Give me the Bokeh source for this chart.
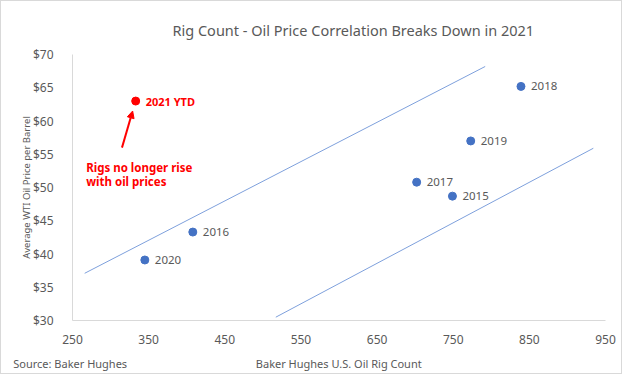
from bokeh.plotting import figure
from bokeh.models import ColumnDataSource, Arrow, NormalHead, Range1d, FixedTicker, NumeralTickFormatter
from bokeh.core.properties import value
from bokeh.embed import file_html
from bokeh.resources import INLINE

# Data
years = ["2015", "2016", "2017", "2018", "2019", "2020"]
rigs = [749, 408, 702, 839, 773, 345]
prices = [48.7, 43.3, 50.8, 65.2, 57.0, 39.1]

ytd_label = ["2021 YTD"]
ytd_rigs = [333]
ytd_price = [63.0]

upper_x = [266, 792]
upper_y = [37.1, 68.2]
lower_x = [517, 934]
lower_y = [30.5, 55.9]

arrow_from = (315, 56.0)
arrow_to = (329, 61.5)
note_lines = ["Rigs no longer rise", "with oil prices"]
note_x = [268, 268]
note_y = [53.05, 50.9]

source_text = "Source: Baker Hughes"
x_title = "Baker Hughes U.S. Oil Rig Count"
y_title = "Average WTI Oil Price per Barrel"
chart_title = "Rig Count - Oil Price Correlation Breaks Down in 2021"

x_ticks = [250, 350, 450, 550, 650, 750, 850, 950]
y_ticks = [30, 35, 40, 45, 50, 55, 60, 65, 70]

FONT = "Noto Sans"
GRAY = "#595959"
BLUE = "#4472C4"
LINE = "#7EA0DC"
RED = "#FF0000"
NB = "\u00a0"

p = figure(width=622, height=374, output_backend="svg", toolbar_location=None,
           x_range=Range1d(250, 950), y_range=Range1d(30, 70),
           min_border_left=71, min_border_right=18, min_border_top=53, min_border_bottom=55)
p.styles = {"border": "1px solid #d9d9d9"}
p.outline_line_color = None
p.xgrid.grid_line_color = None
p.ygrid.grid_line_color = None
p.background_fill_color = "white"
p.border_fill_color = "white"

p.title.text = chart_title
p.title.align = "left"
p.title.offset = 100
p.title.standoff = 29
p.title.text_font = FONT
p.title.text_font_size = "14.5px"
p.title.text_font_style = "normal"
p.title.text_color = GRAY

for ax in (p.xaxis, p.yaxis):
    ax.axis_line_color = "#d9d9d9"
    ax.major_tick_line_color = None
    ax.minor_tick_line_color = None
    ax.major_label_text_color = GRAY
    ax.major_label_text_font = FONT
    ax.major_label_text_font_size = "12px"
    ax.axis_label_text_color = GRAY
    ax.axis_label_text_font = FONT
    ax.axis_label_text_font_size = "11px"
    ax.axis_label_text_font_style = "normal"

p.yaxis.axis_label_text_font_size = "9.5px"
p.xaxis.ticker = FixedTicker(ticks=x_ticks)
p.yaxis.ticker = FixedTicker(ticks=y_ticks)
p.yaxis.formatter = NumeralTickFormatter(format="$0")
# source note shares the row of the x-axis title (left side), padded to keep the title placed
p.xaxis.axis_label = source_text + NB * 45 + x_title + NB * 85
p.yaxis.axis_label = y_title
p.xaxis.major_label_standoff = 8
p.yaxis.major_label_standoff = 13
p.xaxis.axis_label_standoff = 9
p.yaxis.axis_label_standoff = -3

# band lines
p.line(upper_x, upper_y, line_color=LINE, line_width=1)
p.line(lower_x, lower_y, line_color=LINE, line_width=1)

src = ColumnDataSource(dict(x=rigs, y=prices, t=years))
p.scatter("x", "y", source=src, size=8, fill_color=BLUE, line_color=BLUE)
p.text("x", "y", text="t", source=src, x_offset=10, text_baseline="middle",
       text_font=value(FONT), text_font_size="11.5px", text_color=GRAY)

ysrc = ColumnDataSource(dict(x=ytd_rigs, y=ytd_price, t=ytd_label))
p.scatter("x", "y", source=ysrc, size=8, fill_color=RED, line_color=RED)
p.text("x", "y", text="t", source=ysrc, x_offset=10, text_baseline="middle",
       text_font=value(FONT), text_font_size="11px", text_font_style="bold", text_color=RED)

p.add_layout(Arrow(end=NormalHead(size=7, fill_color=RED, line_color=RED),
                   x_start=arrow_from[0], y_start=arrow_from[1],
                   x_end=arrow_to[0], y_end=arrow_to[1],
                   line_color=RED, line_width=2))

nsrc = ColumnDataSource(dict(x=note_x, y=note_y, t=note_lines))
p.text("x", "y", text="t", source=nsrc, text_baseline="middle",
       text_font=value(FONT), text_font_size="11.5px", text_font_style="bold", text_color=RED)

open("out.html", "w").write(file_html(p, INLINE))
